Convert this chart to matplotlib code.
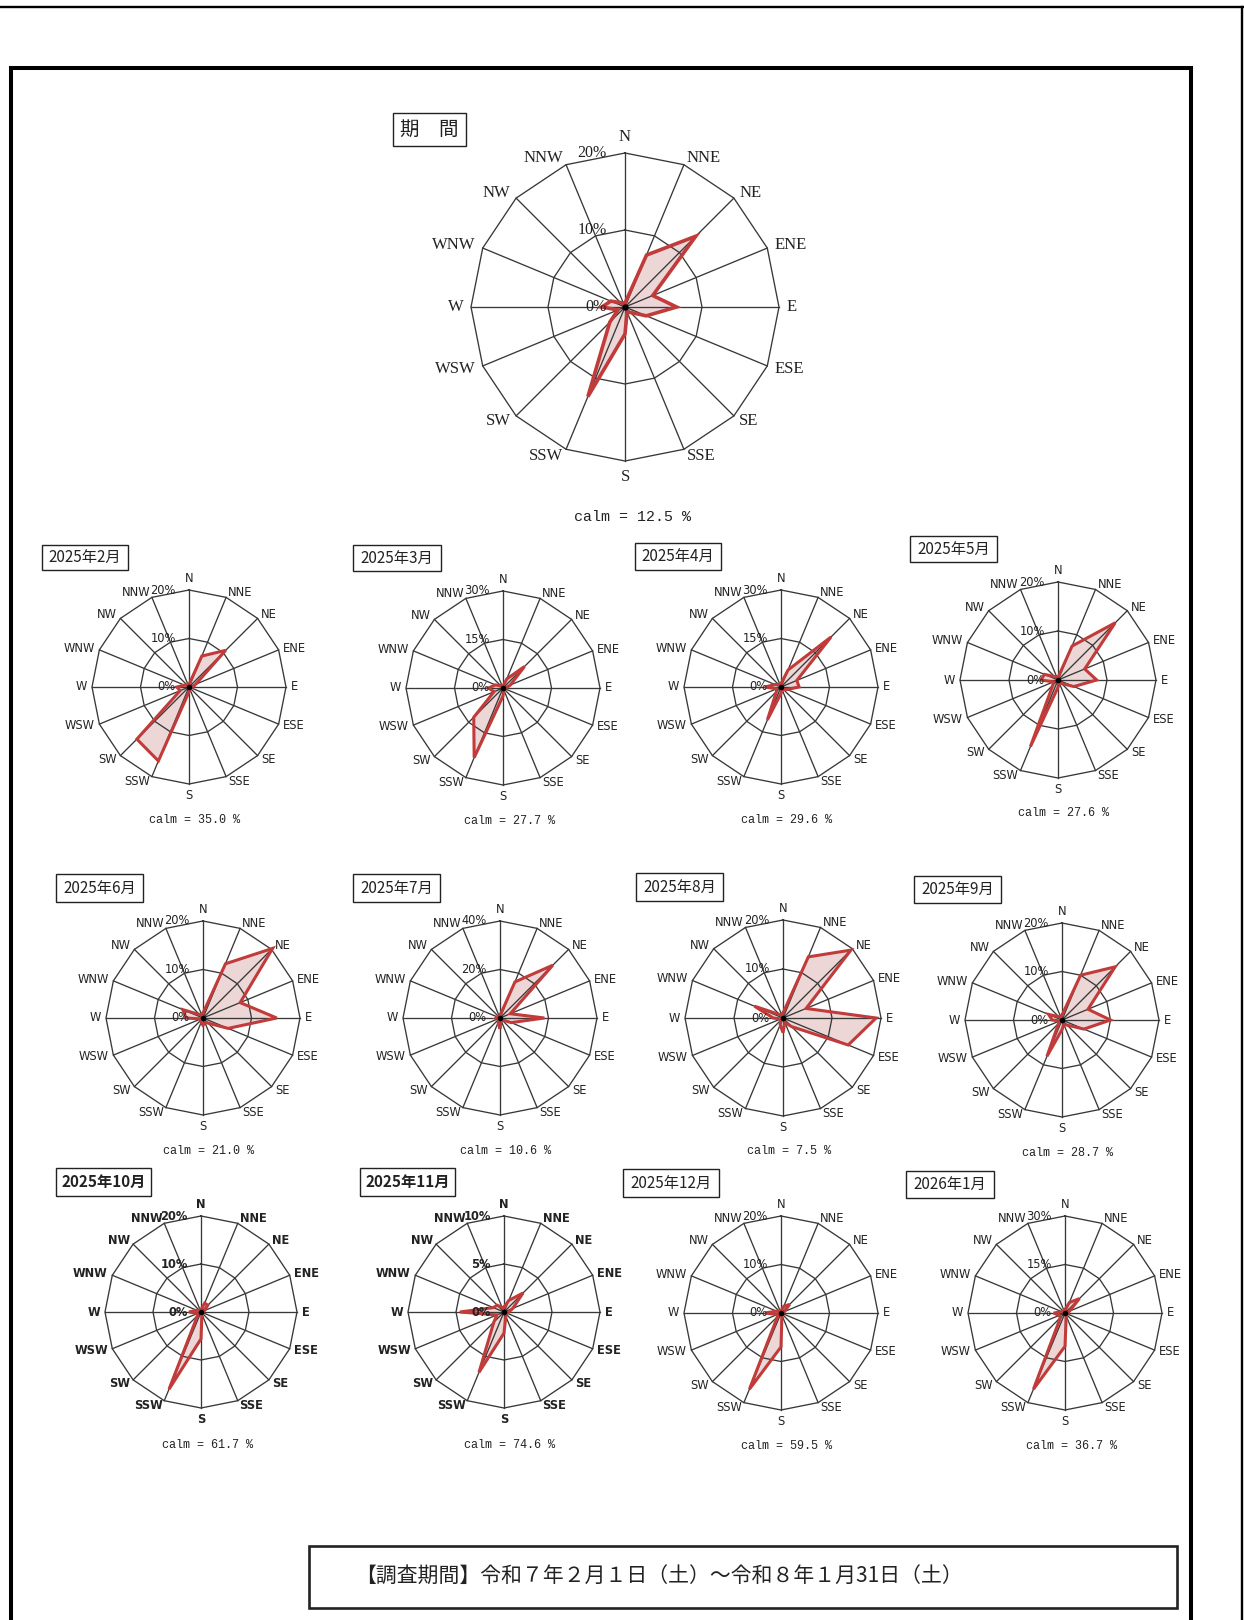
import numpy as np
import matplotlib.pyplot as plt
from matplotlib.lines import Line2D
from matplotlib.patches import Rectangle
from matplotlib import font_manager
from matplotlib.font_manager import FontProperties

plt.rcParams['font.family'] = ['Noto Sans CJK JP', 'DejaVu Sans']

W, H = 1244, 1620

DIRS = ['N', 'NNE', 'NE', 'ENE', 'E', 'ESE', 'SE', 'SSE',
        'S', 'SSW', 'SW', 'WSW', 'W', 'WNW', 'NW', 'NNW']

# frequency (%) for the 16 directions, N then clockwise
annual = [0.5, 7.3, 13.0, 3.9, 6.7, 3.0, 1.0, 0.7, 3.5, 12.6, 2.8, 1.0, 3.0, 2.0, 0.8, 0.5]
annual_calm = 12.5
annual_max = 20

months = ['2025年2月', '2025年3月', '2025年4月', '2025年5月',
          '2025年6月', '2025年7月', '2025年8月', '2025年9月',
          '2025年10月', '2025年11月', '2025年12月', '2026年1月']
feb = [0.5, 6.9, 10.7, 1.5, 0.8, 0.5, 0.5, 0.5, 1.0, 16.5, 15.2, 2.0, 2.5, 1.0, 0.5, 0.5]
mar = [0.5, 3.0, 9.4, 2.5, 1.0, 0.5, 0.5, 0.5, 2.5, 23.3, 12.8, 3.0, 4.5, 2.5, 1.0, 0.5]
apr = [1.0, 5.7, 21.9, 5.3, 5.6, 2.0, 1.0, 1.0, 2.0, 11.0, 2.0, 1.5, 5.0, 2.0, 1.0, 1.0]
may = [0.5, 7.5, 16.5, 5.9, 7.9, 3.5, 1.0, 0.5, 1.5, 14.7, 1.5, 1.0, 3.5, 3.0, 1.0, 0.5]
jun = [1.0, 12.1, 20.3, 8.3, 15.2, 5.6, 1.5, 1.0, 1.5, 1.0, 0.5, 0.5, 3.5, 4.5, 1.0, 0.5]
jul = [1.0, 16.1, 30.8, 4.6, 18.3, 5.0, 1.0, 1.0, 4.5, 2.0, 0.5, 0.5, 1.5, 1.0, 0.5, 0.5]
aug = [1.0, 13.5, 19.6, 5.1, 19.0, 14.4, 2.5, 1.0, 3.0, 1.5, 0.5, 0.5, 2.0, 6.3, 1.0, 0.5]
sep = [1.0, 10.0, 15.5, 5.8, 10.0, 4.9, 1.5, 1.0, 2.0, 8.1, 1.0, 0.5, 2.0, 3.0, 1.0, 0.5]
octo = [0.5, 2.0, 2.0, 0.8, 0.5, 0.3, 0.3, 0.5, 5.6, 17.4, 1.0, 0.8, 2.5, 1.0, 0.5, 0.5]
nov = [0.5, 1.3, 2.8, 1.0, 0.5, 0.3, 0.3, 0.5, 2.2, 6.8, 1.5, 0.8, 4.6, 1.2, 1.0, 0.5]
dec = [0.5, 1.5, 2.5, 0.8, 0.5, 0.3, 0.3, 0.5, 7.0, 17.0, 1.0, 0.8, 3.3, 1.0, 0.5, 0.5]
jan = [1.0, 3.5, 6.3, 1.5, 1.0, 0.5, 0.5, 1.0, 10.3, 25.5, 2.0, 2.0, 3.5, 1.0, 0.5, 0.5]
month_values = [feb, mar, apr, may, jun, jul, aug, sep, octo, nov, dec, jan]
month_calm = [35.0, 27.7, 29.6, 27.6, 21.0, 10.6, 7.5, 28.7, 61.7, 74.6, 59.5, 36.7]
month_max = [20, 30, 30, 20, 20, 40, 20, 20, 20, 10, 20, 30]

period_text = '【調査期間】令和７年２月１日（土）～令和８年１月31日（土）'

# layout in pixels: rose centre x, y, radius / title box x0, y0, x1, y1
rose_pos = [(189, 687, 97), (503, 688, 97), (781, 687, 97), (1058, 680, 98),
            (203, 1018, 97), (500, 1018, 97), (783, 1018, 98), (1062, 1020, 97),
            (201, 1312, 96), (504, 1312, 96), (781, 1313, 97), (1065, 1313, 97)]
title_box = [(42, 545, 128, 570), (353, 545, 441, 571), (635, 543, 721, 570), (910, 536, 997, 562),
             (56, 874, 143, 902), (353, 874, 440, 902), (636, 873, 723, 901), (914, 876, 1001, 903),
             (56, 1168, 151, 1196), (360, 1168, 455, 1196), (623, 1169, 719, 1197), (906, 1171, 994, 1198)]


def narrow_font(weight):
    # a condensed sans if one is installed, else plain DejaVu Sans
    for fam, stretch in (('Liberation Sans Narrow', 'normal'), ('DejaVu Sans', 'condensed')):
        path = font_manager.findfont(FontProperties(family=fam, stretch=stretch, weight=weight),
                                     fallback_to_default=False) if fam in {f.name for f in font_manager.fontManager.ttflist} else ''
        if 'Narrow' in path or 'Condensed' in path:
            return FontProperties(fname=path, size=9.2), True
    return FontProperties(family='DejaVu Sans', weight=weight, size=8), False


NARROW_FP, HAVE_NARROW = narrow_font('normal')
NARROW_BOLD_FP, _ = narrow_font('bold')

GRID = '#383838'
EDGE = '#c23b3b'
FILL = '#ecd6d6'


def fig_rect(x0, y0, w, h):
    return [x0 / W, 1 - (y0 + h) / H, w / W, h / H]


def draw_rose(cx, cy, R, values, rmax, calm, big=False, bold=False):
    ax = fig.add_axes(fig_rect(cx - R, cy - R, 2 * R, 2 * R), projection='polar')
    ax.set_theta_zero_location('N')
    ax.set_theta_direction(-1)
    ax.set_ylim(0, rmax)
    ax.axis('off')

    theta = np.deg2rad(np.arange(16) * 22.5)
    tc = np.append(theta, theta[0])
    v = np.append(values, values[0])

    ax.fill(tc, v, color=FILL, zorder=1, clip_on=False)
    for r in (rmax / 2, rmax):
        ax.plot(tc, np.full(17, r), color=GRID, lw=0.95, zorder=2, clip_on=False)
    for t in theta:
        ax.plot([t, t], [0, rmax], color=GRID, lw=0.95, zorder=2, clip_on=False)
    ax.plot(tc, v, color=EDGE, lw=2.6 if big else 2.2, zorder=3, clip_on=False,
            solid_joinstyle='miter')
    ax.plot([0], [0], 'o', color='black', ms=3.5 if big else 3, zorder=4)

    if big:
        lab_kw = dict(fontproperties=FontProperties(family='Liberation Serif', size=12))
        ring_kw = dict(fontproperties=FontProperties(family='Liberation Serif', size=11.5))
        ring_off = -13
    else:
        lab_kw = dict(fontproperties=NARROW_BOLD_FP if bold else NARROW_FP)
        ring_kw = lab_kw
        ring_off = -9.5

    for t, name in zip(theta, DIRS):
        s = np.sin(t)
        if abs(s) < 0.1:
            ha = 'center'
            va = 'bottom' if np.cos(t) > 0 else 'top'
        else:
            ha = 'left' if s > 0 else 'right'
            va = 'center'
        ax.text(t, rmax * 1.05, name, ha=ha, va=va, color='#222', **lab_kw)

    for r in (rmax, rmax / 2, 0):
        ax.annotate(f'{r:g}%', xy=(0, r), xytext=(ring_off, 0), textcoords='offset points',
                    ha='right', va='center', color='#222', **ring_kw)

    if big:
        fig.text((cx + 7) / W, 1 - (cy + 210) / H, f'calm = {calm:.1f} %',
                 ha='center', va='center', family='Liberation Mono', fontsize=10.8, color='#222')
    else:
        fig.text((cx + 6) / W, 1 - (cy + 133) / H, f'calm = {calm:.1f} %',
                 ha='center', va='center', family='Liberation Mono', fontsize=8.5, color='#222')
    return ax


def px_box(x0, y0, x1, y1, lw=1.0):
    fig.add_artist(Rectangle((x0 / W, 1 - y1 / H), (x1 - x0) / W, (y1 - y0) / H,
                             transform=fig.transFigure, fill=False, ec='#222', lw=lw))


def px_line(x0, y0, x1, y1, lw):
    fig.add_artist(Line2D([x0 / W, x1 / W], [1 - y0 / H, 1 - y1 / H], transform=fig.transFigure,
                          color='black', lw=lw, solid_capstyle='projecting'))


fig = plt.figure(figsize=(W / 100, H / 100), dpi=100)

# page frames
px_line(0, 7, W, 7, 1.7)
px_line(1242, 7, 1242, H, 1.7)
px_line(11, 68, 1191, 68, 2.9)
px_line(11, 68, 11, H, 2.9)
px_line(1191, 68, 1191, H, 2.9)

# whole period rose
draw_rose(625, 307, 154, annual, annual_max, annual_calm, big=True)
px_box(393, 113, 466, 146)
fig.text(429.5 / W, 1 - 129.5 / H, '期　間', ha='center', va='center', fontsize=14, color='#222')

# monthly roses
for i, name in enumerate(months):
    cx, cy, R = rose_pos[i]
    bold = name in ('2025年10月', '2025年11月')
    draw_rose(cx, cy, R, month_values[i], month_max[i], month_calm[i], bold=bold)
    x0, y0, x1, y1 = title_box[i]
    px_box(x0, y0, x1, y1)
    fig.text((x0 + x1) / 2 / W, 1 - (y0 + y1) / 2 / H, name, ha='center', va='center',
             fontsize=11, color='#222', fontweight='bold' if bold else 'normal')

# survey period box
px_box(309, 1546, 1177, 1608, lw=1.9)
fig.text(355 / W, 1 - 1577 / H, period_text, ha='left', va='center', fontsize=15, color='#222')

fig.savefig('out.png', dpi=100)
